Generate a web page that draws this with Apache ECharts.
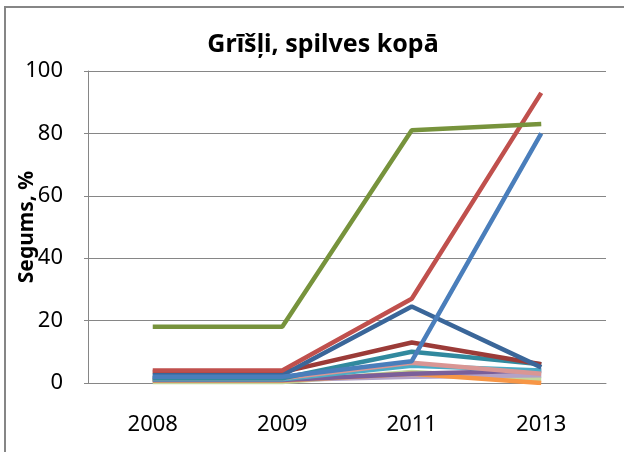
<!DOCTYPE html>
<html>
<head>
<meta charset="utf-8">
<script src="https://cdn.jsdelivr.net/npm/echarts@6/dist/echarts.min.js"></script>
<style>
html, body { margin: 0; padding: 0; background: #fff; }
#chart { width: 624px; height: 452px; }
</style>
</head>
<body>
<div id="chart"></div>
<script>
var years = ['2008', '2009', '2011', '2013'];
var yTicks = [0, 20, 40, 60, 80, 100];

// segums pa sugām, %
var sLightGreen = [0.3, 0.3, 3.5, 1.3];
var sLavender = [1, 1, 2, 2.5];
var sOrange = [0.8, 0.8, 3, 0];
var sPurple = [1, 1, 3, 4];
var sLightBlue = [1.2, 1.2, 5.5, 4];
var sPink = [1.5, 1.5, 6.5, 3];
var sTeal = [1.5, 1.5, 10, 6];
var sDarkRed = [3.5, 3.5, 13, 6];
var sDarkBlue = [2.5, 2.5, 24.5, 5];
var sBlue = [2, 2, 7, 80];
var sRed = [4, 4, 27, 93];
var sGreen = [18, 18, 81, 83];

(function () {
    var myChart = echarts.init(document.getElementById('chart'));
    var font = '"Noto Sans", sans-serif';
    function line(data, color) {
        return {
            type: 'line',
            data: data,
            symbol: 'none',
            lineStyle: { width: 4.5, color: color },
            itemStyle: { color: color }
        };
    }
    var option = {
        animation: false,
        title: {
            text: 'Grīšļi, spilves kopā',
            left: 318,
            textAlign: 'center',
            top: 27,
            textStyle: { fontFamily: font, fontSize: 25, fontWeight: 'bold', color: '#000' }
        },
        graphic: [{
            type: 'rect',
            shape: { x: 5, y: 7, width: 640, height: 470 },
            style: { fill: 'none', stroke: '#868686', lineWidth: 2 },
            silent: true
        }],
        grid: { left: 88, right: 18, top: 71, bottom: 69, outerBoundsMode: 'none', containLabel: false },
        xAxis: {
            type: 'category',
            data: years,
            boundaryGap: true,
            axisLine: { lineStyle: { color: '#868686', width: 1 } },
            axisTick: { show: false },
            axisLabel: { fontFamily: font, fontSize: 22, color: '#000', margin: 31 }
        },
        yAxis: {
            type: 'value',
            min: yTicks[0],
            max: yTicks[yTicks.length - 1],
            interval: 20,
            name: 'Segums, %',
            nameLocation: 'middle',
            nameGap: 50,
            nameMoveOverlap: false,
            nameTextStyle: { fontFamily: font, fontSize: 21, fontWeight: 'bold', color: '#000' },
            axisLine: { show: true, lineStyle: { color: '#868686', width: 1 } },
            axisTick: { show: true, length: 4, lineStyle: { color: '#868686' } },
            splitLine: { lineStyle: { color: '#868686', width: 1 } },
            axisLabel: { fontFamily: font, fontSize: 22, color: '#000', margin: 25 }
        },
        series: [
            line(sLightGreen, '#C3D69B'),
            line(sLavender, '#B3A2C7'),
            line(sOrange, '#F79646'),
            line(sPurple, '#7A5F9A'),
            line(sLightBlue, '#4BACC6'),
            line(sPink, '#D99694'),
            line(sTeal, '#31899E'),
            line(sDarkRed, '#9B3B38'),
            line(sDarkBlue, '#3A6699'),
            line(sBlue, '#4A7EBB'),
            line(sRed, '#C0504D'),
            line(sGreen, '#77933C')
        ]
    };
    myChart.setOption(option);
})();
</script>
</body>
</html>
